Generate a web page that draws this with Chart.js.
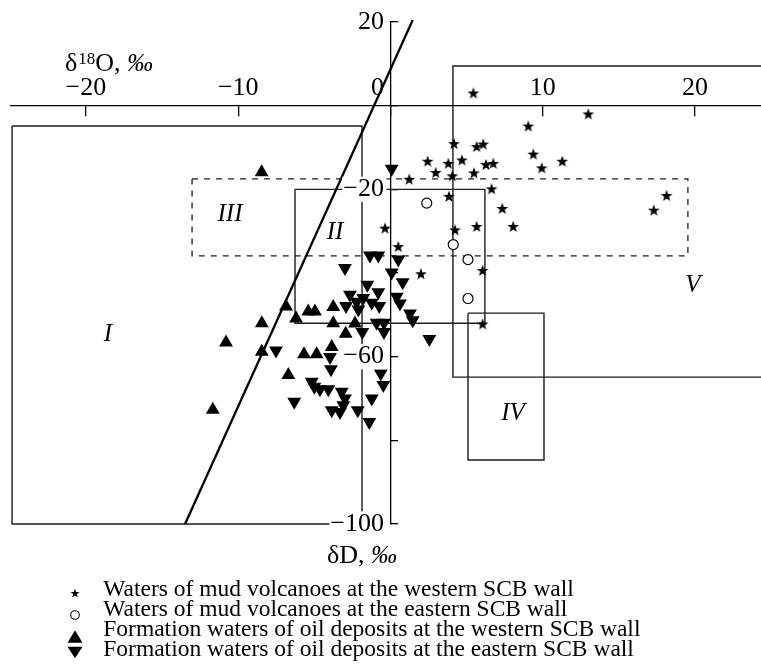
<!DOCTYPE html>
<html>
<head>
<meta charset="utf-8">
<style>
html,body{margin:0;padding:0;background:#fff;}
#c{display:block;}
</style>
</head>
<body>
<canvas id="c" width="761" height="664"></canvas>
<script src="https://cdn.jsdelivr.net/npm/chart.js@4/dist/chart.umd.min.js"></script>
<script>
// ---------------- data ----------------
const seriesNames = [
  'Waters of mud volcanoes at the western SCB wall',
  'Waters of mud volcanoes at the eastern SCB wall',
  'Formation waters of oil deposits at the western SCB wall',
  'Formation waters of oil deposits at the eastern SCB wall'
];
// [δ18O, δD]
const mudWest = [[5.44,2.9],[12.99,-2.1],[9.05,-5.0],[4.17,-9.2],[5.66,-9.9],[6.09,-9.3],[2.44,-13.4],[3.80,-13.9],
  [4.69,-13.1],[2.97,-16.1],[4.06,-16.9],[5.48,-16.2],[6.27,-14.2],[6.75,-13.9],[9.38,-11.7],[9.93,-15.0],[11.28,-13.4],
  [1.23,-17.7],[6.64,-20.0],[3.84,-21.8],[18.13,-21.6],[17.29,-25.1],[7.34,-24.7],[5.66,-29.0],[8.06,-29.0],[4.24,-29.8],
  [-0.36,-29.4],[0.51,-33.8],[2.0,-40.3],[6.05,-39.5],[6.05,-52.3]];
const mudEast = [[2.38,-23.3],[4.12,-33.2],[5.09,-36.8],[5.09,-46.1]];
const oilWest = [[-8.46,-15.9],[-11.67,-72.7],[-6.86,-48.0],[-8.45,-52.0],[-10.80,-56.6],[-8.45,-58.8],[-6.20,-50.9],
  [-5.40,-49.2],[-4.96,-49.2],[-3.76,-48.1],[-3.76,-52.0],[-2.33,-52.1],[-2.94,-54.5],[-5.68,-59.4],[-4.85,-59.4],
  [-3.86,-57.7],[-6.71,-64.4]];
const oilEast = [[0.08,-15.1],[-1.35,-35.8],[-0.80,-35.8],[0.51,-36.8],[-2.99,-38.8],[0.08,-39.9],[0.80,-42.2],[-1.52,-42.8],
  [-0.80,-44.6],[-2.66,-45.2],[0.41,-45.7],[-1.79,-46.0],[-2.22,-46.9],[-1.23,-47.1],[-2.92,-47.9],[-2.11,-48.7],
  [-0.74,-47.9],[0.62,-47.3],[1.28,-49.7],[1.46,-51.3],[-0.91,-51.9],[-0.43,-51.9],[-0.43,-54.1],[-1.85,-54.1],
  [2.55,-55.8],[-7.52,-58.5],[-3.97,-60.1],[-3.91,-63.0],[-0.64,-64.0],[-0.47,-66.8],[-5.17,-66.0],[-5.00,-67.2],
  [-4.63,-67.8],[-4.08,-67.8],[-3.20,-68.4],[-2.99,-70.0],[-3.10,-71.6],[-1.23,-70.0],[-6.32,-70.8],[-3.86,-72.8],
  [-3.32,-73.2],[-2.15,-72.8],[-1.39,-75.6]];

// meteoric water line and field outlines (δ18O, δD)
const gmwl = [[-13.49,-100],[1.46,20.5]];
const fieldI = [[-24.85,-4.86],[-1.87,-4.86],[-1.87,-100],[-24.85,-100],[-24.85,-4.86]];
const fieldII = [[-6.27,-20],[6.2,-20],[6.2,-52],[-6.27,-52],[-6.27,-20]];
const fieldIII = [[-13.03,-17.5],[19.53,-17.5],[19.53,-35.9],[-13.03,-35.9],[-13.03,-17.5]];
const fieldIV = [[5.09,-49.6],[10.08,-49.6],[10.08,-84.7],[5.09,-84.7],[5.09,-49.6]];
const fieldV = [[26,9.5],[4.1,9.5],[4.1,-64.9],[26,-64.9]];
const fieldNames = ['I','II','III','IV','V'];
const fieldNameAt = [[-18.55,-54.8],[-3.64,-30.2],[-10.54,-26.1],[8.04,-73.5],[19.86,-42.9]];

// axes
const xTicks = [-20,-10,0,10,20];
const yTicks = [20,0,-20,-40,-60,-80,-100];
const yLabelled = [20,-20,-60,-100];
const xRange = [-24.92, 24.33];
const yRange = [-100, 20];
const xTitle = ['δ', '18', 'O, ', '‰'];
const yTitle = ['δD, ', '‰'];

// ---------------- drawing ----------------
const SERIF = '"Liberation Serif", "Times New Roman", serif';
const toPts = arr => arr.map(p => ({x: p[0], y: p[1]}));
const fmt = v => (v < 0 ? '\u2212' + Math.abs(v) : String(v));

function icon(w, h, dx, dy, draw) {
  const c = document.createElement('canvas');
  c.width = w; c.height = h;
  const g = c.getContext('2d');
  g.fillStyle = '#000'; g.strokeStyle = '#000';
  draw(g, w / 2 + dx, h / 2 + dy);
  return c;
}
function star(g, cx, cy, R, r) {
  g.beginPath();
  for (let i = 0; i < 10; i++) {
    const a = -Math.PI / 2 + i * Math.PI / 5;
    const rad = i % 2 ? r : R;
    g.lineTo(cx + rad * Math.cos(a), cy + rad * Math.sin(a));
  }
  g.closePath(); g.fill();
}
function tri(g, cx, cy, w, h, up) {
  g.beginPath();
  if (up) { g.moveTo(cx, cy - h / 2); g.lineTo(cx + w / 2, cy + h / 2); g.lineTo(cx - w / 2, cy + h / 2); }
  else { g.moveTo(cx, cy + h / 2); g.lineTo(cx + w / 2, cy - h / 2); g.lineTo(cx - w / 2, cy - h / 2); }
  g.closePath(); g.fill();
}
const starMark = icon(14, 14, 0, 0, (g, x, y) => star(g, x, y, 6.2, 2.5));
const legendIcons = [
  icon(71, 30, 25.5, 3.5, (g, x, y) => star(g, x, y, 4.8, 1.9)),
  icon(71, 30, 25.5, 5, (g, x, y) => { g.lineWidth = 1.1; g.beginPath(); g.arc(x, y, 4.3, 0, Math.PI * 2); g.stroke(); }),
  icon(71, 30, 25.5, 6.5, (g, x, y) => tri(g, x, y, 15, 12.5, true)),
  icon(71, 30, 25.5, 2.5, (g, x, y) => tri(g, x, y, 15, 11.5, false))
];

const lineDs = (pts, opts) => Object.assign({
  data: toPts(pts), showLine: true, pointRadius: 0, borderColor: '#1c1c1c', borderWidth: 1.4,
  fill: false, clip: false, tension: 0
}, opts);

const annot = {
  id: 'annot',
  afterDatasetsDraw(chart) {
    const {ctx, scales: {x, y}} = chart;
    ctx.save();
    ctx.fillStyle = '#000';
    ctx.textBaseline = 'middle';
    ctx.textAlign = 'center';
    ctx.font = 'italic 25px ' + SERIF;
    fieldNames.forEach((t, i) => ctx.fillText(t, x.getPixelForValue(fieldNameAt[i][0]), y.getPixelForValue(fieldNameAt[i][1])));
    ctx.restore();
  },
  afterDraw(chart) {
    const {ctx, scales: {x, y}} = chart;
    ctx.save();
    ctx.fillStyle = '#000';
    ctx.textBaseline = 'alphabetic';
    ctx.textAlign = 'left';
    // δ18O axis title (above the horizontal axis, at the left)
    let px = x.getPixelForValue(-21.37);
    const base = y.getPixelForValue(0) - 35;
    ctx.font = '26px ' + SERIF; ctx.fillText(xTitle[0], px, base); px += ctx.measureText(xTitle[0]).width + 1;
    ctx.font = '17px ' + SERIF; ctx.fillText(xTitle[1], px, base - 7); px += ctx.measureText(xTitle[1]).width;
    ctx.font = '26px ' + SERIF; ctx.fillText(xTitle[2], px, base); px += ctx.measureText(xTitle[2]).width;
    ctx.font = 'italic 26px ' + SERIF; ctx.fillText(xTitle[3], px, base);
    // δD axis title (below the vertical axis)
    px = x.getPixelForValue(-4.17);
    const base2 = chart.chartArea.bottom + 39;
    ctx.font = '26px ' + SERIF; ctx.fillText(yTitle[0], px, base2); px += ctx.measureText(yTitle[0]).width;
    ctx.font = 'italic 26px ' + SERIF; ctx.fillText(yTitle[1], px, base2);
    ctx.restore();
  }
};

new Chart(document.getElementById('c'), {
  type: 'scatter',
  data: {
    datasets: [
      {label: seriesNames[0], data: toPts(mudWest), pointStyle: starMark, pointRadius: 6, backgroundColor: '#000', borderColor: '#000'},
      {label: seriesNames[1], data: toPts(mudEast), pointStyle: 'circle', pointRadius: 5, backgroundColor: '#fff', borderColor: '#000', borderWidth: 1.2},
      {label: seriesNames[2], data: toPts(oilWest), pointStyle: 'triangle', pointRadius: 8, backgroundColor: '#000', borderColor: '#000', borderWidth: 0},
      {label: seriesNames[3], data: toPts(oilEast), pointStyle: 'triangle', pointRotation: 180, pointRadius: 8, backgroundColor: '#000', borderColor: '#000', borderWidth: 0},
      lineDs(gmwl, {label: 'GMWL', borderColor: '#000', borderWidth: 2.3}),
      lineDs(fieldI, {label: 'I'}),
      lineDs(fieldII, {label: 'II'}),
      lineDs(fieldIII, {label: 'III', borderDash: [6, 6], borderWidth: 1.3}),
      lineDs(fieldIV, {label: 'IV'}),
      lineDs(fieldV, {label: 'V'})
    ]
  },
  options: {
    responsive: false,
    animation: false,
    devicePixelRatio: 1,
    events: [],
    layout: {autoPadding: false, padding: {top: 22, left: 11, right: 0, bottom: 0}},
    scales: {
      x: {
        type: 'linear', min: xRange[0], max: xRange[1], position: {y: 0},
        afterBuildTicks: s => { s.ticks = xTicks.map(v => ({value: v})); },
        ticks: {
          autoSkip: false, maxRotation: 0, color: '#000', padding: -43,
          font: {family: SERIF, size: 26},
          callback: v => (v === 0 ? '0    ' : fmt(v))
        },
        grid: {drawOnChartArea: false, drawTicks: true, tickLength: 10, color: '#000', lineWidth: 1.3},
        border: {display: true, color: '#000', width: 1.3}
      },
      y: {
        type: 'linear', min: yRange[0], max: yRange[1], position: {x: 0},
        afterBuildTicks: s => { s.ticks = yTicks.map(v => ({value: v})); },
        ticks: {
          z: 1, autoSkip: false, color: '#000', padding: 0,
          font: {family: SERIF, size: 26},
          callback: v => (yLabelled.includes(v) ? fmt(v) + ' ' : ''),
          showLabelBackdrop: c => yLabelled.includes(c.tick && c.tick.value),
          backdropColor: '#fff',
          backdropPadding: {top: -3, bottom: -3, left: 1, right: -4}
        },
        grid: {drawOnChartArea: false, drawTicks: true, tickLength: -8, color: '#000', lineWidth: 1.3},
        border: {display: true, color: '#000', width: 1.3}
      }
    },
    plugins: {
      tooltip: {enabled: false},
      title: {display: false},
      legend: {
        display: true, position: 'bottom', align: 'start', maxHeight: 140,
        title: {display: true, text: ' ', font: {size: 10}, padding: {top: 0, bottom: 45.75}},
        labels: {
          usePointStyle: true, pointStyleWidth: 84, padding: -3.5, color: '#000',
          font: {family: SERIF, size: 23.5},
          filter: item => item.datasetIndex < 4,
          generateLabels: chart => Chart.defaults.plugins.legend.labels.generateLabels(chart).map(it => {
            if (it.datasetIndex < 4) { it.pointStyle = legendIcons[it.datasetIndex]; it.rotation = 0; }
            return it;
          })
        }
      }
    }
  },
  plugins: [annot]
});
</script>
</body>
</html>
